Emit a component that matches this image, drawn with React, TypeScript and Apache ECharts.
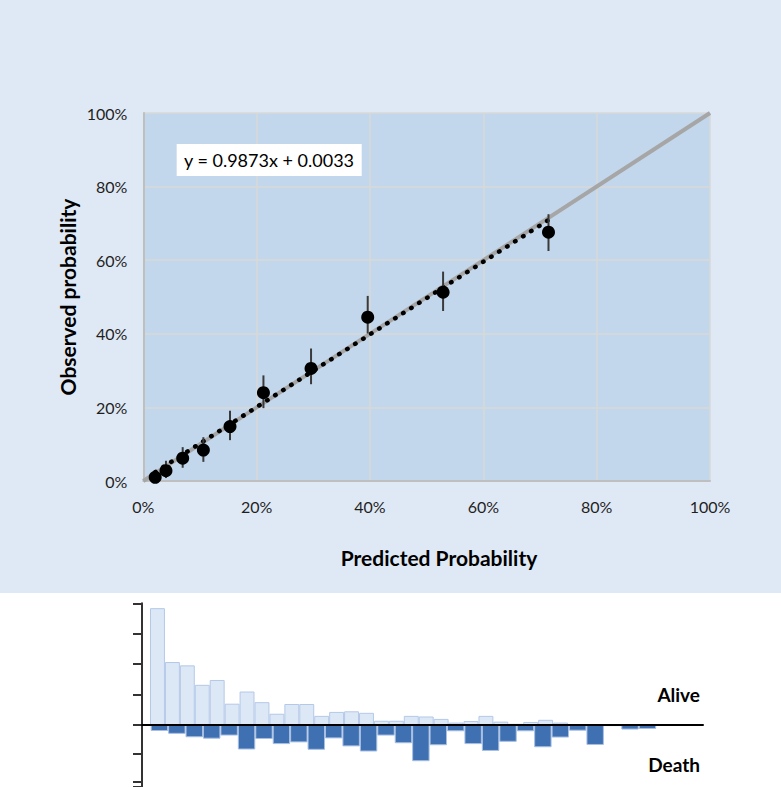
import React, { useEffect, useRef } from "react";
import * as echarts from "echarts";

// ---- Calibration plot data ----
const predicted = [0.021, 0.040, 0.0695, 0.106, 0.153, 0.212, 0.296, 0.396, 0.529, 0.715];
const observed = [0.010, 0.028, 0.062, 0.084, 0.148, 0.240, 0.306, 0.445, 0.513, 0.676];
const ciLow = [0.003, 0.008, 0.036, 0.052, 0.111, 0.198, 0.263, 0.401, 0.462, 0.625];
const ciHigh = [0.018, 0.055, 0.092, 0.119, 0.191, 0.287, 0.360, 0.503, 0.569, 0.725];
const trendSlope = 0.9873;
const trendIntercept = 0.0033;
const equationText = "y = 0.9873x + 0.0033";

// ---- Histogram data (counts per bin) ----
const aliveCounts = [384, 207, 196, 132, 148, 70, 110, 75, 37, 69, 69, 30, 43, 45, 40, 14, 14, 30, 28, 20, 8, 13, 30, 11, 4, 10, 17, 8, 3, 3, 3];
const deathCounts = [21, 31, 43, 48, 37, 86, 49, 67, 61, 87, 47, 75, 93, 37, 64, 127, 71, 22, 67, 91, 59, 22, 78, 44, 20, 70, 4, 16, 14];

const FONT = 'Lato, "Open Sans", "Noto Sans", sans-serif';

export default function App() {
  const ref = useRef<HTMLDivElement>(null);

  useEffect(() => {
    if (!ref.current) return;
    const chart = echarts.init(ref.current, undefined, { renderer: "svg" });

    const pts = predicted.map((x, i) => [x, observed[i]]);
    const errs = predicted.map((x, i) => [x, ciLow[i], ciHigh[i]]);
    const xMin = Math.min(...predicted);
    const xMax = Math.max(...predicted);
    const trend = [
      [xMin, trendSlope * xMin + trendIntercept],
      [xMax, trendSlope * xMax + trendIntercept],
    ];
    const pctFmt = (v: number) => Math.round(v * 100) + "%";

    const aliveW = aliveCounts.length * 14.93;
    const deathW = deathCounts.length * 17.43;
    const deathVisibleMax = 217.5; // portion of the lower axis visible in the crop

    chart.setOption({
      animation: false,
      backgroundColor: "#ffffff",
      textStyle: { fontFamily: FONT },
      grid: [
        { left: 143.3, top: 113, width: 566.7, height: 368, show: true, backgroundColor: "#c3d7ec", borderWidth: 0 },
        { left: 150, top: 603.3, width: aliveW, height: 121.7 },
        { left: 150.7, top: 725, width: deathW, height: 62 },
        { left: 142, top: 603.3, width: 561, height: 121.7 },
        { left: 142, top: 725, width: 561, height: 62 },
      ],
      xAxis: [
        {
          gridIndex: 0, type: "value", min: 0, max: 1, interval: 0.2,
          axisLine: { show: true, lineStyle: { color: "#bfbfbf", width: 2 } },
          axisTick: { show: false },
          splitLine: { show: true, lineStyle: { color: "#d9d9d9", width: 1.5 } },
          axisLabel: { formatter: pctFmt, color: "#1f1f1f", fontSize: 16, margin: 17, fontFamily: FONT },
        },
        { gridIndex: 1, type: "category", data: aliveCounts.map((_, i) => String(i + 1)), show: false },
        { gridIndex: 2, type: "category", data: deathCounts.map((_, i) => String(i + 1)), show: false },
        {
          gridIndex: 3, type: "value", min: 0, max: 1, z: 10,
          axisLine: { show: true, lineStyle: { color: "#000000", width: 2 } },
          axisTick: { show: false }, axisLabel: { show: false }, splitLine: { show: false },
        },
        { gridIndex: 4, type: "value", min: 0, max: 1, show: false },
      ],
      yAxis: [
        {
          gridIndex: 0, type: "value", min: 0, max: 1, interval: 0.2,
          axisLine: { show: true, lineStyle: { color: "#bfbfbf", width: 2 } },
          axisTick: { show: false },
          splitLine: { show: true, lineStyle: { color: "#d9d9d9", width: 1.5 } },
          axisLabel: { formatter: pctFmt, color: "#1f1f1f", fontSize: 16, margin: 16, fontFamily: FONT },
        },
        { gridIndex: 1, type: "value", min: 0, max: 400, show: false },
        { gridIndex: 2, type: "value", min: 0, max: deathVisibleMax, inverse: true, show: false },
        {
          gridIndex: 3, type: "value", min: 0, max: 400, interval: 100,
          axisLine: { show: true, lineStyle: { color: "#333333", width: 2 } },
          axisTick: { show: true, inside: false, length: 9, lineStyle: { color: "#333333", width: 2 } },
          axisLabel: { show: false }, splitLine: { show: false },
        },
        {
          gridIndex: 4, type: "value", min: 0, max: deathVisibleMax, interval: 100, inverse: true,
          axisLine: { show: true, lineStyle: { color: "#333333", width: 2 } },
          axisTick: { show: true, inside: false, length: 9, lineStyle: { color: "#333333", width: 2 } },
          axisLabel: { show: false }, splitLine: { show: false },
        },
      ],
      series: [
        {
          type: "line", xAxisIndex: 0, yAxisIndex: 0,
          data: [[0, 0], [1, 1]], showSymbol: false, symbol: "none",
          lineStyle: { color: "#a6a6a6", width: 4 }, z: 2, silent: true,
        },
        {
          type: "line", xAxisIndex: 0, yAxisIndex: 0,
          data: trend, showSymbol: false, symbol: "none",
          lineStyle: { color: "#000000", width: 4.5, type: [0.5, 9], cap: "round" }, z: 3, silent: true,
        },
        {
          type: "custom", xAxisIndex: 0, yAxisIndex: 0, data: errs, z: 4,
          renderItem: (params: any, api: any) => {
            const p1 = api.coord([api.value(0), api.value(1)]);
            const p2 = api.coord([api.value(0), api.value(2)]);
            return {
              type: "line",
              shape: { x1: p1[0], y1: p1[1], x2: p2[0], y2: p2[1] },
              style: { stroke: "#3a3a3a", lineWidth: 2 },
            };
          },
        },
        {
          type: "scatter", xAxisIndex: 0, yAxisIndex: 0, data: pts,
          symbol: "circle", symbolSize: 13, itemStyle: { color: "#000000", opacity: 1 }, z: 5,
        },
        {
          type: "bar", xAxisIndex: 1, yAxisIndex: 1, data: aliveCounts,
          barCategoryGap: "0%",
          itemStyle: { color: "#dde8f6", borderColor: "#b4c8e8", borderWidth: 1 },
        },
        {
          type: "bar", xAxisIndex: 2, yAxisIndex: 2, data: deathCounts,
          barCategoryGap: "0%",
          itemStyle: { color: "#3f70b2", borderColor: "#a7bfe2", borderWidth: 1 },
        },
      ],
      graphic: [
        {
          type: "rect", z: -10, silent: true,
          shape: { x: 0, y: 0, width: 781, height: 593 },
          style: { fill: "#dfe9f5" },
        },
        {
          type: "rect", z: 20,
          shape: { x: 176.7, y: 144, width: 185, height: 32 },
          style: { fill: "#ffffff" },
        },
        {
          type: "text", z: 21, x: 269, y: 160,
          style: { text: equationText, fill: "#000000", font: `18px ${FONT}`, textAlign: "center", textVerticalAlign: "middle" },
        },
        {
          type: "text", x: 439, y: 557,
          style: { text: "Predicted Probability", fill: "#000000", font: `bold 21px ${FONT}`, textAlign: "center", textVerticalAlign: "middle" },
        },
        {
          type: "text", x: 67, y: 297, rotation: Math.PI / 2,
          style: { text: "Observed probability", fill: "#000000", font: `bold 21px ${FONT}`, textAlign: "center", textVerticalAlign: "middle" },
        },
        {
          type: "text", x: 700, y: 694,
          style: { text: "Alive", fill: "#000000", font: `bold 19px ${FONT}`, textAlign: "right", textVerticalAlign: "middle" },
        },
        {
          type: "text", x: 700, y: 764,
          style: { text: "Death", fill: "#000000", font: `bold 19px ${FONT}`, textAlign: "right", textVerticalAlign: "middle" },
        },
      ],
    });

    return () => chart.dispose();
  }, []);

  return (
    <div
      ref={ref}
      style={{ position: "absolute", left: 0, top: 0, width: 781, height: 787 }}
    />
  );
}
